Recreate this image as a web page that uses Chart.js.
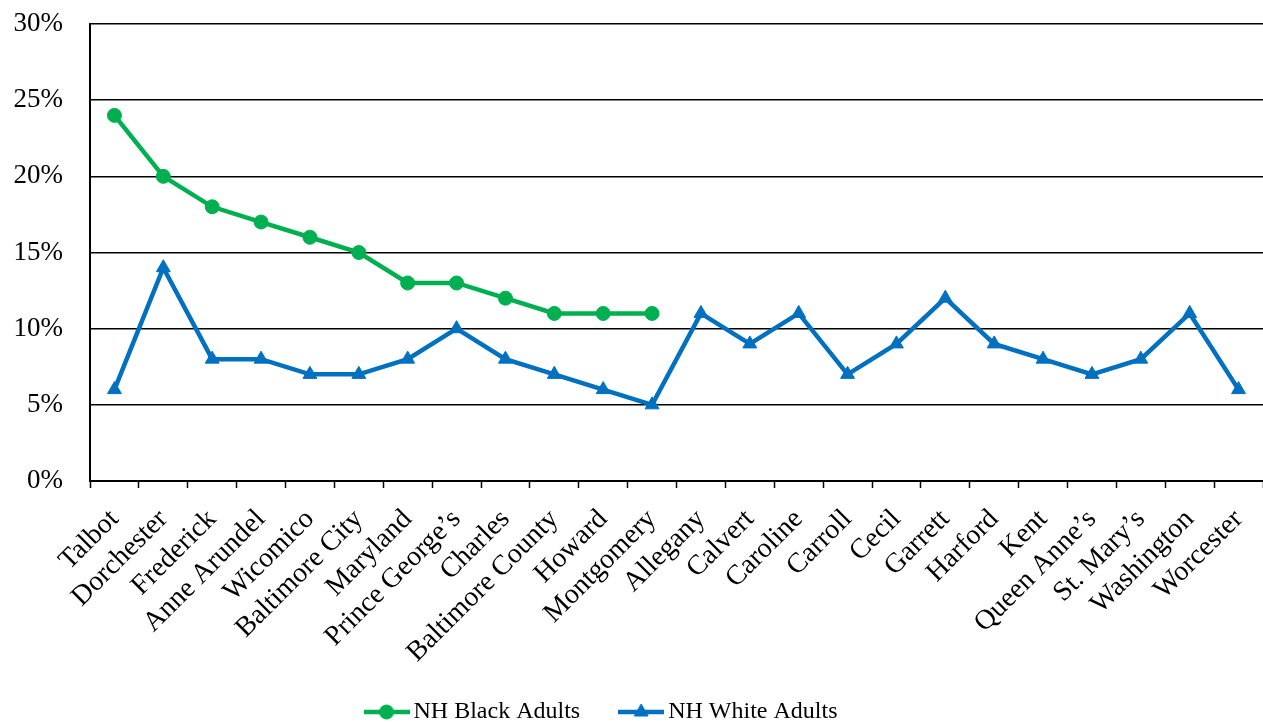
<!DOCTYPE html>
<html>
<head>
<meta charset="utf-8">
<script src="https://cdn.jsdelivr.net/npm/chart.js@4.4.1/dist/chart.umd.min.js"></script>
<style>
  html, body { margin: 0; padding: 0; background: #ffffff; }
  canvas { display: block; }
</style>
</head>
<body>
<canvas id="chart" width="1263" height="723"></canvas>
<script>
// Jurisdictions along the x axis
const counties = [
  'Talbot', 'Dorchester', 'Frederick', 'Anne Arundel', 'Wicomico', 'Baltimore City',
  'Maryland', 'Prince George’s', 'Charles', 'Baltimore County', 'Howard', 'Montgomery',
  'Allegany', 'Calvert', 'Caroline', 'Carroll', 'Cecil', 'Garrett', 'Harford', 'Kent',
  'Queen Anne’s', 'St. Mary’s', 'Washington', 'Worcester'
];

// Percent of adults, by group
const blackAdults = [24, 20, 18, 17, 16, 15, 13, 13, 12, 11, 11, 11];
const whiteAdults = [6, 14, 8, 8, 7, 7, 8, 10, 8, 7, 6, 5, 11, 9, 11, 7, 9, 12, 9, 8, 7, 8, 11, 6];

// Y axis tick labels
const yTickLabels = ['0%', '5%', '10%', '15%', '20%', '25%', '30%'];

const GREEN = '#00B050';
const BLUE = '#0070C0';
const SERIF = "'Liberation Serif', 'Times New Roman', Times, serif";

// Legend symbol: a short line segment with the series marker in the middle
function legendSymbol(color, style, radius) {
  const c = document.createElement('canvas');
  c.width = 46;
  c.height = 20;
  const g = c.getContext('2d');
  g.strokeStyle = color;
  g.lineWidth = 4.5;
  g.beginPath();
  g.moveTo(0, c.height / 2);
  g.lineTo(c.width, c.height / 2);
  g.stroke();
  g.fillStyle = color;
  g.strokeStyle = color;
  g.lineWidth = 1;
  Chart.helpers.drawPoint(g, { pointStyle: style, radius: radius, rotation: 0, borderWidth: 1 }, c.width / 2, c.height / 2);
  return c;
}

const PLOT_BOTTOM = 481;
const LEGEND_CENTER_Y = 712;
const LEGEND_SHIFT_X = -27;

// Final placement of the legend row; the category axis keeps room for its long rotated labels
const legendPlacement = {
  id: 'legendPlacement',
  afterLayout(chart) {
    const lg = chart.legend;
    const pad = lg.options.labels.padding;
    const dy = (LEGEND_CENTER_Y - pad - 12) - lg.top;
    lg.top += dy;
    lg.bottom += dy;
    lg.left += LEGEND_SHIFT_X;
    lg.right += LEGEND_SHIFT_X;
    chart.scales.x.bottom = chart.height;
  }
};

const markers = [
  legendSymbol(GREEN, 'circle', 7),
  legendSymbol(BLUE, 'triangle', 8)
];

new Chart(document.getElementById('chart'), {
  type: 'line',
  data: {
    labels: counties,
    datasets: [
      {
        label: 'NH Black Adults',
        data: blackAdults,
        borderColor: GREEN,
        backgroundColor: GREEN,
        borderWidth: 4.5,
        pointStyle: 'circle',
        pointRadius: 7,
        pointBackgroundColor: GREEN,
        pointBorderColor: GREEN,
        pointBorderWidth: 1,
        tension: 0,
        fill: false
      },
      {
        label: 'NH White Adults',
        data: whiteAdults,
        borderColor: BLUE,
        backgroundColor: BLUE,
        borderWidth: 4.5,
        pointStyle: 'triangle',
        pointRadius: 8,
        pointBackgroundColor: BLUE,
        pointBorderColor: BLUE,
        pointBorderWidth: 1,
        tension: 0,
        fill: false
      }
    ]
  },
  options: {
    responsive: false,
    animation: false,
    events: [],
    layout: { autoPadding: false, padding: { top: 24, left: 0, right: 0, bottom: 0 } },
    plugins: {
      tooltip: { enabled: false },
      legend: {
        display: true,
        position: 'bottom',
        align: 'center',
        labels: {
          usePointStyle: true,
          pointStyleWidth: 30,
          padding: 46,
          color: '#000000',
          font: { family: SERIF, size: 24 },
          generateLabels(chart) {
            const items = Chart.defaults.plugins.legend.labels.generateLabels(chart);
            items.forEach((it, i) => { it.pointStyle = markers[i]; });
            return items;
          }
        }
      }
    },
    scales: {
      x: {
        type: 'category',
        offset: true,
        grid: {
          offset: true,
          drawOnChartArea: false,
          drawTicks: true,
          tickLength: 7,
          tickWidth: 1.5,
          tickColor: '#000000',
          color: '#000000'
        },
        border: { display: true, color: '#000000', width: 2 },
        ticks: {
          autoSkip: false,
          maxRotation: 45,
          minRotation: 45,
          padding: 15,
          color: '#000000',
          font: { family: SERIF, size: 28 }
        },
        afterFit(scale) {
          scale.height = scale.chart.height - PLOT_BOTTOM - scale.chart.legend.height;
          scale.paddingLeft = 0;
          scale.paddingRight = 0;
        }
      },
      y: {
        min: 0,
        max: 30,
        grid: {
          drawTicks: false,
          color: '#000000',
          lineWidth: 1.5
        },
        border: { display: true, color: '#000000', width: 2 },
        ticks: {
          stepSize: 5,
          padding: 27,
          color: '#000000',
          font: { family: SERIF, size: 27 },
          callback: (v) => yTickLabels[Math.round(v / 5)]
        },
        afterFit(scale) {
          scale.width = 90;
          scale.paddingTop = 0;
          scale.paddingBottom = 0;
        }
      }
    }
  },
  plugins: [legendPlacement]
});
</script>
</body>
</html>
